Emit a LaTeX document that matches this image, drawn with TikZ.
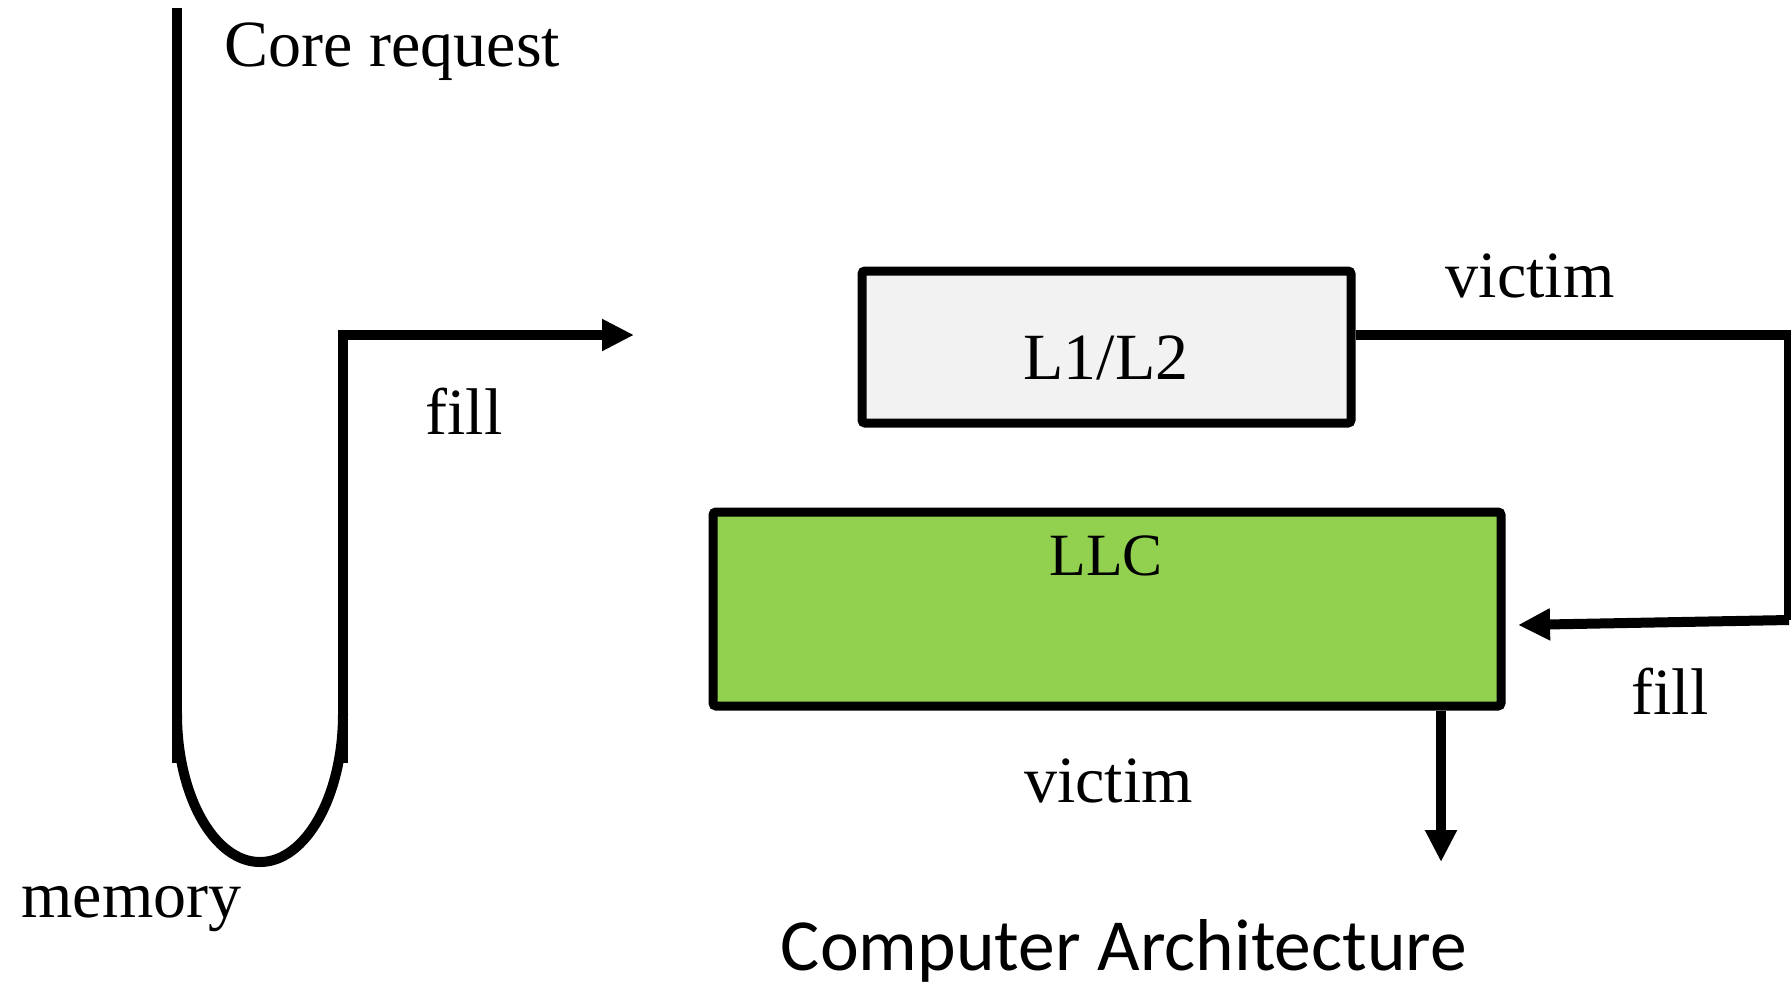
\documentclass[tikz,border=0pt]{standalone}
\usepackage{fontspec}
\setmainfont{Liberation Serif}
\newfontfamily\captionfont{Carlito}
\usetikzlibrary{arrows.meta}
\definecolor{boxgrey}{HTML}{F2F2F2}
\definecolor{llcgreen}{HTML}{92D050}
\tikzset{
  wire/.style={line width=5pt},
  flow/.style={wire, -{Triangle[length=16pt,width=15pt]}},
  cachebox/.style={draw, line width=4.5pt, rounded corners=1.5pt, inner sep=0pt},
  lbl/.style={inner sep=0pt, anchor=base, font=\fontsize{33}{40}\selectfont},
}
\begin{document}
\begin{tikzpicture}[x=0.5pt,y=-0.5pt]
\useasboundingbox (0,0) rectangle (1791,987);
\clip (0,0) rectangle (1791,987);

% cache levels
\node[cachebox, fill=boxgrey, minimum width=244.5pt, minimum height=76pt] (l12) at (1106.5,347) {};
\node[lbl] (l12t) at (1106,379) {L1/L2};
\node[cachebox, fill=llcgreen, minimum width=394pt, minimum height=97pt] (llc) at (1107,609) {};
\node[lbl, font=\fontsize{30}{36}\selectfont] (llct) at (1106,575) {LLC};

% memory loop on the left
\coordinate (reqtop) at (177,8);
\coordinate (reqbot) at (177,763);
\coordinate (fillbot) at (343,763);
\coordinate (fillcorner) at (343,335);
\coordinate (filltip) at (634,335);
\draw[wire] (reqtop) -- (reqbot);
\draw[wire] (177,714) .. controls (177,795.7) and (214.2,862) .. (260,862)
                      .. controls (305.8,862) and (343,795.7) .. (343,714);
\draw[flow] (fillbot) -- (fillcorner) -- (filltip);

% victim from L1/L2 refilled into the LLC
\coordinate (vtop) at (1789,335);
\coordinate (vbot) at (1789,620);
\coordinate (vtip) at (1518,625);
\draw[wire] (l12.east |- vtop) -- (vtop) -- (vbot);
\draw[flow] (vbot) -- (vtip);

% LLC victim going down
\coordinate (llcout) at (1441,862);
\draw[flow] (llc.south -| llcout) -- (llcout);

% labels
\node[lbl] (core) at (392.5,66) {Core request};
\node[lbl] (fillA) at (464,434) {fill};
\node[lbl] (victA) at (1530,297) {victim};
\node[lbl] (fillB) at (1670,714) {fill};
\node[lbl] (victB) at (1108.5,802) {victim};
\node[lbl] (mem) at (131.5,917) {memory};
\node[inner sep=0pt, anchor=base, font=\captionfont\fontsize{36.75}{44}\selectfont] (title) at (1124,970) {Computer Architecture};
\end{tikzpicture}
\end{document}
